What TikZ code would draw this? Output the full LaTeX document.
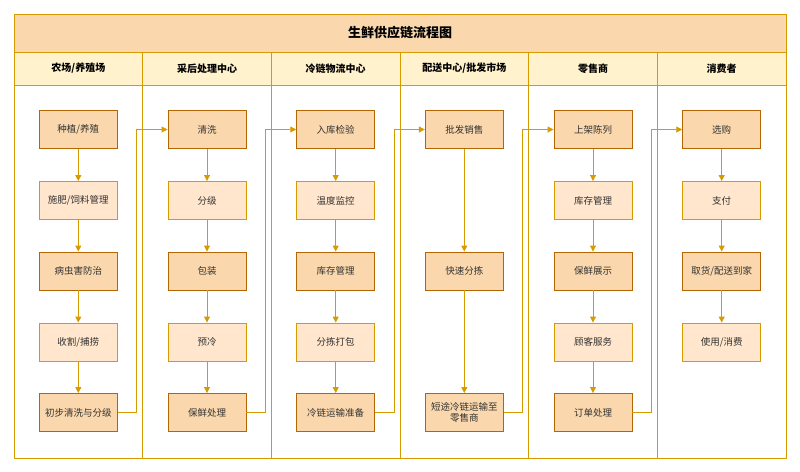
\documentclass[tikz,border=0pt]{standalone}
\usepackage{fontspec}
\setmainfont{Noto Sans CJK SC}
\usetikzlibrary{arrows.meta}
\definecolor{ln}{HTML}{D79B00}
\definecolor{dk}{HTML}{B46504}
\definecolor{dkf}{HTML}{FAD7AC}
\definecolor{ltf}{HTML}{FFE6CC}
\definecolor{hdf}{HTML}{FFF2CC}
\definecolor{txt}{HTML}{333333}
\begin{document}
\begin{tikzpicture}[x=1pt,y=-1pt,
 dark/.style={draw=dk,fill=dkf,line width=0.9pt,minimum width=78pt,minimum height=38pt,inner sep=1pt,font=\fontsize{9.5}{11}\selectfont,text=txt,align=center},
 light/.style={draw=ln,fill=ltf,line width=0.9pt,minimum width=78pt,minimum height=38pt,inner sep=1pt,font=\fontsize{9.5}{11}\selectfont,text=txt,align=center},
 hd/.style={font=\bfseries\fontsize{10}{12}\selectfont,text=black},
 ar/.style={draw=ln,line width=0.9pt,-{Triangle[length=6pt,width=6pt]}}]
\useasboundingbox (0,0) rectangle (800,471);
\fill[dkf] (14,14) rectangle (786,52);
\fill[hdf] (14,52) rectangle (786,85);
\draw[ln,line width=1pt] (14,14) rectangle (786,458);
\draw[ln,line width=1pt] (14,52) -- (786,52) (14,85) -- (786,85);
\foreach \i in {1,...,5}{\draw[ln,line width=1pt] (14+\i*128.667,52) -- (14+\i*128.667,458);}
\node[font=\bfseries\fontsize{13}{15}\selectfont] (title) at (400,33) {生鲜供应链流程图};
\foreach \t [count=\i] in {农场/养殖场,采后处理中心,冷链物流中心,配送中心/批发市场,零售商,消费者}
 {\node[hd] (h\i) at (14+\i*128.667-64.33,68.5) {\t};}
% rows
\def\ya{129.5}\def\yb{200.5}\def\yc{271}\def\yd{342}\def\ye{412.5}
\def\xa{78.3}\def\xb{207}\def\xc{335.7}\def\xd{464.3}\def\xe{593}\def\xf{721.7}
\node[dark] (a1) at (\xa,\ya) {种植/养殖};
\node[light] (a2) at (\xa,\yb) {施肥/饲料管理};
\node[dark] (a3) at (\xa,\yc) {病虫害防治};
\node[light] (a4) at (\xa,\yd) {收割/捕捞};
\node[dark] (a5) at (\xa,\ye) {初步清洗与分级};
\node[dark] (b1) at (\xb,\ya) {清洗};
\node[light] (b2) at (\xb,\yb) {分级};
\node[dark] (b3) at (\xb,\yc) {包装};
\node[light] (b4) at (\xb,\yd) {预冷};
\node[dark] (b5) at (\xb,\ye) {保鲜处理};
\node[dark] (c1) at (\xc,\ya) {入库检验};
\node[light] (c2) at (\xc,\yb) {温度监控};
\node[dark] (c3) at (\xc,\yc) {库存管理};
\node[light] (c4) at (\xc,\yd) {分拣打包};
\node[dark] (c5) at (\xc,\ye) {冷链运输准备};
\node[dark] (d1) at (\xd,\ya) {批发销售};
\node[dark] (d3) at (\xd,\yc) {快速分拣};
\node[dark] (d5) at (\xd,\ye) {短途冷链运输至\\零售商};
\node[dark] (e1) at (\xe,\ya) {上架陈列};
\node[light] (e2) at (\xe,\yb) {库存管理};
\node[dark] (e3) at (\xe,\yc) {保鲜展示};
\node[light] (e4) at (\xe,\yd) {顾客服务};
\node[dark] (e5) at (\xe,\ye) {订单处理};
\node[dark] (f1) at (\xf,\ya) {选购};
\node[light] (f2) at (\xf,\yb) {支付};
\node[dark] (f3) at (\xf,\yc) {取货/配送到家};
\node[light] (f4) at (\xf,\yd) {使用/消费};
\foreach \c in {a,b,c,e}{
 \draw[ar] (\c1) -- (\c2); \draw[ar] (\c2) -- (\c3); \draw[ar] (\c3) -- (\c4); \draw[ar] (\c4) -- (\c5);}
\draw[ar] (d1) -- (d3); \draw[ar] (d3) -- (d5);
\draw[ar] (f1) -- (f2); \draw[ar] (f2) -- (f3); \draw[ar] (f3) -- (f4);
\foreach \p/\q [count=\k] in {a/b,b/c,c/d,d/e,e/f}{
 \draw[ar] (\p5.east) -- ++(19,0) |- (\q1.west);}
\end{tikzpicture}
\end{document}
